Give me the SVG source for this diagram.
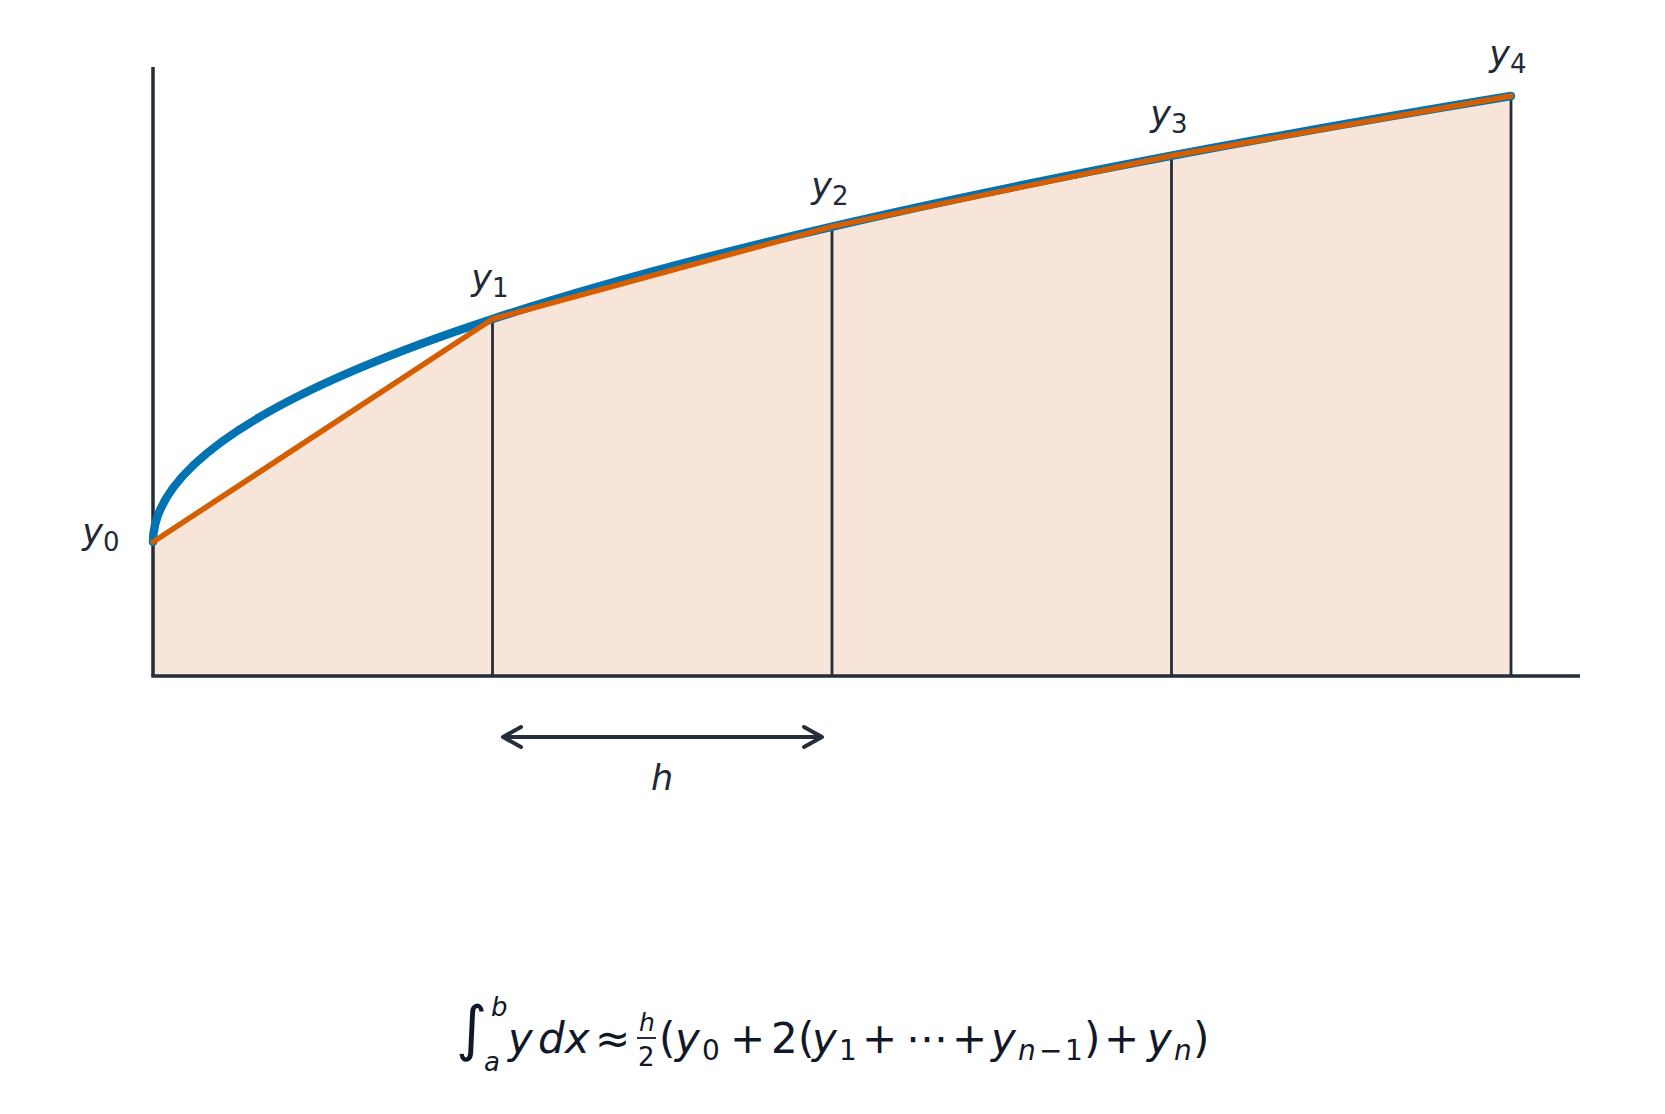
<svg xmlns="http://www.w3.org/2000/svg" width="1665" height="1114" viewBox="0 0 1665 1114">
<style>
.ax{stroke:#252d3a;stroke-width:3.5;fill:none;stroke-linecap:butt}
.vl{stroke:#252d3a;stroke-width:2.8;fill:none}
.lbl{font-family:"DejaVu Sans","Liberation Sans",sans-serif;font-size:35px;fill:#1f2937}
.it{font-style:italic}
.sub{font-size:26px;font-style:normal}
.fm{font-family:"DejaVu Sans","Liberation Sans",sans-serif;font-size:42px;fill:#111827}
.fs{font-size:28px}
</style>
<defs>
<marker id="chev" viewBox="-24 -14 28 28" markerWidth="28" markerHeight="28" refX="0" refY="0" markerUnits="userSpaceOnUse" orient="auto-start-reverse">
<path d="M -18 -10 L 0 0 L -18 10" fill="none" stroke="#252d3a" stroke-width="4" stroke-linecap="round" stroke-linejoin="round"/>
</marker>
</defs>
<rect width="1665" height="1114" fill="#ffffff"/>
<g id="area">
<polygon points="153,542 492.5,319 832,226.6 1171.5,155.8 1511,96 1511,676 153,676" fill="#f8e5d9"/>
</g>
<g id="ordinates">
<line class="vl" x1="492.5" y1="319" x2="492.5" y2="676"/>
<line class="vl" x1="832" y1="226.6" x2="832" y2="676"/>
<line class="vl" x1="1171.5" y1="155.8" x2="1171.5" y2="676"/>
<line class="vl" x1="1511" y1="96" x2="1511" y2="676"/>
</g>
<g id="axes">
<line class="ax" x1="153" y1="67" x2="153" y2="676"/>
<line class="ax" x1="151.3" y1="676" x2="1580" y2="676"/>
</g>
<g id="curve">
<path d="M 153 542 Q 153 319 1511 96" fill="none" stroke="#0172b2" stroke-width="8.5" stroke-linecap="round"/>
</g>
<g id="trapezoids">
<polyline points="153,542 492.5,319 832,226.6 1171.5,155.8 1511,96" fill="none" stroke="#d55e00" stroke-width="5.5" stroke-linecap="round" stroke-linejoin="round"/>
</g>
<g id="connectors">
<line x1="503" y1="737" x2="822" y2="737" stroke="#252d3a" stroke-width="4" marker-start="url(#chev)" marker-end="url(#chev)"/>
</g>
<g id="labels">
<text id="y0" class="lbl" x="101" y="544" text-anchor="middle"><tspan class="it">y</tspan><tspan class="sub" dy="7">0</tspan></text>
<text id="y1" class="lbl" x="490" y="290" text-anchor="middle"><tspan class="it">y</tspan><tspan class="sub" dy="7">1</tspan></text>
<text id="y2" class="lbl" x="830" y="198" text-anchor="middle"><tspan class="it">y</tspan><tspan class="sub" dy="7">2</tspan></text>
<text id="y3" class="lbl" x="1169" y="126" text-anchor="middle"><tspan class="it">y</tspan><tspan class="sub" dy="7">3</tspan></text>
<text id="y4" class="lbl" x="1508" y="66" text-anchor="middle"><tspan class="it">y</tspan><tspan class="sub" dy="7">4</tspan></text>
<text id="h" class="lbl it" x="662" y="790" text-anchor="middle">h</text>
</g>
<g id="formula">
<text class="fm">
<tspan x="456" y="1049" font-size="60">∫</tspan>
<tspan x="491" y="1016" font-size="26" font-style="italic">b</tspan>
<tspan x="484" y="1071" font-size="26" font-style="italic">a</tspan>
<tspan x="508" y="1053" font-style="italic">y</tspan>
<tspan x="538" y="1053" font-style="italic">dx</tspan>
<tspan x="595" y="1053">≈</tspan>
<tspan x="639" y="1031" font-size="25" font-style="italic">h</tspan>
<tspan x="638" y="1066" font-size="26">2</tspan>
<tspan x="659" y="1053">(</tspan>
<tspan x="675" y="1053" font-style="italic">y</tspan>
<tspan class="fs" x="702" y="1060">0</tspan>
<tspan x="730" y="1053">+</tspan>
<tspan x="771" y="1053">2</tspan>
<tspan x="798" y="1053">(</tspan>
<tspan x="812" y="1053" font-style="italic">y</tspan>
<tspan class="fs" x="839" y="1060">1</tspan>
<tspan x="862" y="1053">+</tspan>
<tspan x="906" y="1053">⋯</tspan>
<tspan x="952" y="1053">+</tspan>
<tspan x="991" y="1053" font-style="italic">y</tspan>
<tspan class="fs" x="1018" y="1060" font-style="italic">n</tspan>
<tspan class="fs" x="1039" y="1060">−</tspan>
<tspan class="fs" x="1065" y="1060">1</tspan>
<tspan x="1084" y="1053">)</tspan>
<tspan x="1104" y="1053">+</tspan>
<tspan x="1147" y="1053" font-style="italic">y</tspan>
<tspan class="fs" x="1174" y="1060" font-style="italic">n</tspan>
<tspan x="1193" y="1053">)</tspan>
</text>
<line x1="637" y1="1038" x2="656" y2="1038" stroke="#111827" stroke-width="1.8"/>
</g>
</svg>
